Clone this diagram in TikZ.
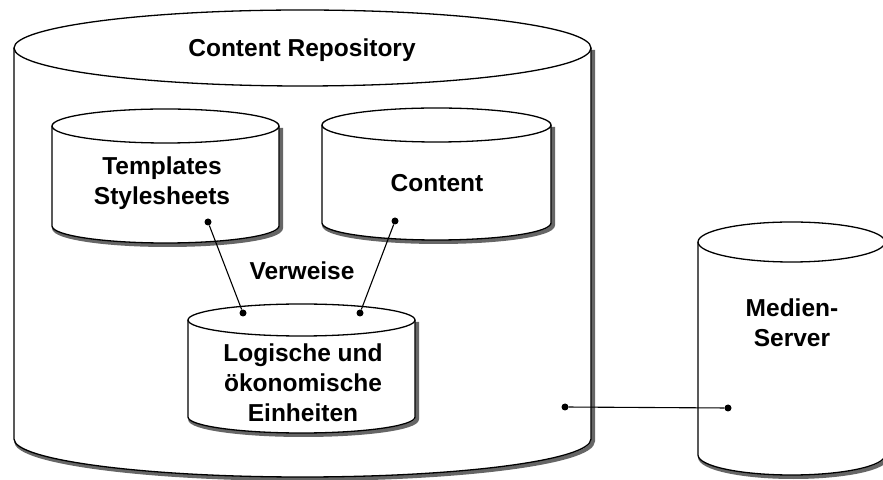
\documentclass[tikz,border=0pt]{standalone}
\usepackage{fontspec}
\setmainfont{Liberation Sans}
% drum{cx}{y of top ellipse}{y of bottom ellipse}{x radius}{y radius}
\newcommand\drum[5]{%
  \draw[shadowline] ({#1+#4+2},{#2-2}) -- ({#1+#4+2},{#3-2})
    arc[start angle=0,end angle=-180,x radius=#4,y radius=#5];
  \fill[white] ({#1-#4},#2) -- ({#1-#4},#3)
    arc[start angle=180,end angle=360,x radius=#4,y radius=#5]
    -- ({#1+#4},#2) -- cycle;
  \fill[white] (#1,#2) ellipse[x radius=#4,y radius=#5];
  \draw[outline] ({#1-#4},#2) -- ({#1-#4},#3)
    arc[start angle=180,end angle=360,x radius=#4,y radius=#5]
    -- ({#1+#4},#2);
  \draw[outline] (#1,#2) ellipse[x radius=#4,y radius=#5];
}
\begin{document}
\begin{tikzpicture}[x=1pt,y=1pt,
  outline/.style={draw=black,line width=1.3pt},
  shadowline/.style={draw=black!60,line width=4pt},
  label/.style={font=\fontsize{24.5}{30}\selectfont\bfseries,align=center,inner sep=0pt},
  dot/.style={circle,fill=black,inner sep=0pt,minimum size=7pt},
  link/.style={draw=black,line width=1.1pt}]
\useasboundingbox (0,0) rectangle (883,479);

% repository and the three stores inside it
\drum{302.5}{431}{40}{288.5}{38}
\drum{165.5}{353}{253}{113.5}{17}
\drum{436.5}{354}{256}{114.5}{17}
\drum{301.5}{159}{62}{113.5}{16}
% media server
\drum{791.5}{237}{24}{93.5}{20}

\node[label] (repo) at (302,429) {Content Repository};
\node[label] (tpl) at (162,296) {Templates\\Stylesheets};
\node[label] (cnt) at (437,296) {Content};
\node[label] (ref) at (302,208) {Verweise};
\node[label] (units) at (303,96) {Logische und\\ökonomische\\Einheiten};
\node[label] (media) at (792,156) {Medien-\\Server};

\node[dot] (dT) at (208,257) {};
\node[dot] (dC) at (395,258) {};
\node[dot] (dL1) at (243,166) {};
\node[dot] (dL2) at (360,166) {};
\node[dot] (dR) at (565,72) {};
\node[dot] (dM) at (728,71) {};

\draw[link] (dT) -- (dL1);
\draw[link] (dC) -- (dL2);
\draw[link] (dR) -- (dM);
\end{tikzpicture}
\end{document}
